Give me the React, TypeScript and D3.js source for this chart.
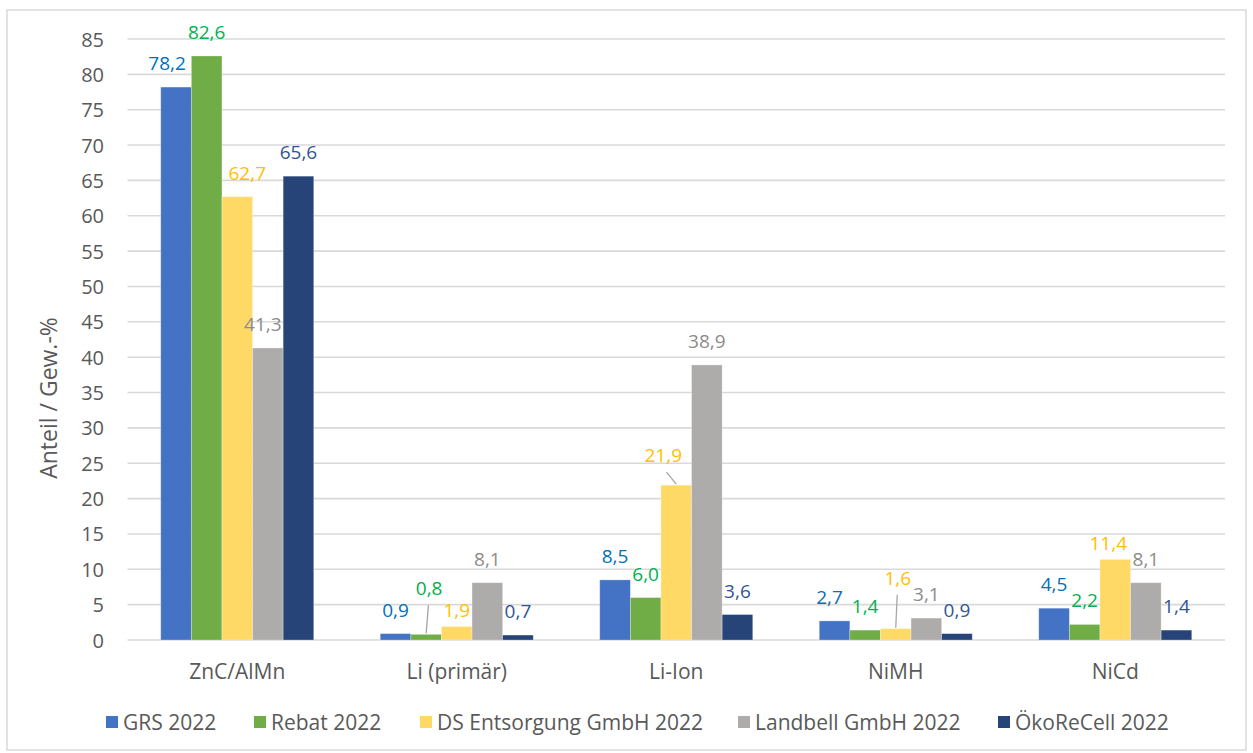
import React from "react";
import * as d3 from "d3";

const categories = ["ZnC/AlMn", "Li (primär)", "Li-Ion", "NiMH", "NiCd"];
const seriesNames = ["GRS 2022", "Rebat 2022", "DS Entsorgung GmbH 2022", "Landbell GmbH 2022", "ÖkoReCell 2022"];
const grs = [78.2, 0.9, 8.5, 2.7, 4.5];
const rebat = [82.6, 0.8, 6.0, 1.4, 2.2];
const ds = [62.7, 1.9, 21.9, 1.6, 11.4];
const landbell = [41.3, 8.1, 38.9, 3.1, 8.1];
const oekorecell = [65.6, 0.7, 3.6, 0.9, 1.4];
const seriesValues = [grs, rebat, ds, landbell, oekorecell];
const yTicks = d3.range(0, 90, 5);

const barColors = ["#4472C4", "#70AD47", "#FFD966", "#AEABAB", "#264478"];
const labelColors = ["#0070C0", "#00B050", "#FFC000", "#8C8C8C", "#2F5597"];

// label nudges (series index, category index) -> [dx, dy, leader]
const nudges: Record<string, [number, number, boolean]> = {
  "0-0": [-9, 0, false],
  "2-0": [10, 0, false],
  "3-0": [-5, 0, false],
  "1-1": [3, -22, true],
  "2-1": [0, 7, false],
  "2-2": [-13, -6, true],
  "0-3": [-5, 0, false],
  "2-3": [2, -27, true],
  "2-4": [-7, 8, false],
};

const fmt = (v: number) => v.toFixed(1).replace(".", ",");

export default function App() {
  const W = 1253, H = 753;
  const left = 127.5, right = 1225, top = 39, bottom = 640;
  const x0 = d3.scaleBand<string>().domain(categories).range([left, right]).padding(0);
  const bw = x0.bandwidth();
  const groupW = 153;
  const x1 = d3.scaleBand<string>().domain(seriesNames).range([(bw - groupW) / 2, (bw + groupW) / 2]).padding(0);
  const y = d3.scaleLinear().domain([0, 85]).range([bottom, top]);
  const font = "'Open Sans', 'Noto Sans', sans-serif";

  const bars: React.ReactNode[] = [];
  const labels: React.ReactNode[] = [];
  seriesValues.forEach((vals, si) => {
    vals.forEach((v, ci) => {
      const bx = (x0(categories[ci]) as number) + (x1(seriesNames[si]) as number);
      const w = x1.bandwidth();
      const by = y(v);
      bars.push(
        <rect key={`b${si}-${ci}`} x={bx} y={by} width={w} height={bottom - by} fill={barColors[si]} stroke="#ffffff" strokeOpacity={0.35} strokeWidth={0.8} />
      );
      const n = nudges[`${si}-${ci}`] || [0, 0, false];
      const cx = bx + w / 2;
      const lx = cx + n[0];
      const ly = by - 24 + n[1];
      if (n[2]) {
        labels.push(
          <line key={`l${si}-${ci}`} x1={lx + (cx - lx) * 0.25} y1={ly + 17} x2={cx} y2={by - 1} stroke="#A6A6A6" strokeWidth={1.3} />
        );
      }
      labels.push(
        <text key={`t${si}-${ci}`} x={lx} y={ly} textAnchor="middle" dominantBaseline="central" fontSize={19} fill={labelColors[si]} fontFamily={font}>
          {fmt(v)}
        </text>
      );
    });
  });

  const legendX = [106, 254, 420, 738, 998];

  return (
    <svg width={W} height={H} style={{ position: "absolute", left: 0, top: 0, background: "#fff" }}>
      <rect x={7} y={10} width={1239} height={740} fill="#fff" stroke="#D9D9D9" strokeWidth={1.5} />
      {yTicks.map((t) => (
        <line key={`g${t}`} x1={left} x2={right} y1={y(t)} y2={y(t)} stroke="#D9D9D9" strokeWidth={1.6} />
      ))}
      {yTicks.map((t) => (
        <text key={`y${t}`} x={104} y={y(t)} textAnchor="end" dominantBaseline="central" fontSize={20} fill="#595959" fontFamily={font}>
          {t}
        </text>
      ))}
      <text transform={`translate(48,398) rotate(-90)`} textAnchor="middle" dominantBaseline="central" fontSize={23} fill="#595959" fontFamily={font}>
        Anteil / Gew.-%
      </text>
      {bars}
      {labels}
      {categories.map((c) => (
        <text key={`c${c}`} x={(x0(c) as number) + bw / 2} y={671} textAnchor="middle" dominantBaseline="central" fontSize={21} fill="#595959" fontFamily={font}>
          {c}
        </text>
      ))}
      {seriesNames.map((s, i) => (
        <g key={`lg${s}`} transform={`translate(${legendX[i]},722)`}>
          <rect x={0} y={-6} width={12} height={12} fill={barColors[i]} />
          <text x={17} y={0} dominantBaseline="central" fontSize={21} fill="#595959" fontFamily={font}>
            {s}
          </text>
        </g>
      ))}
    </svg>
  );
}
